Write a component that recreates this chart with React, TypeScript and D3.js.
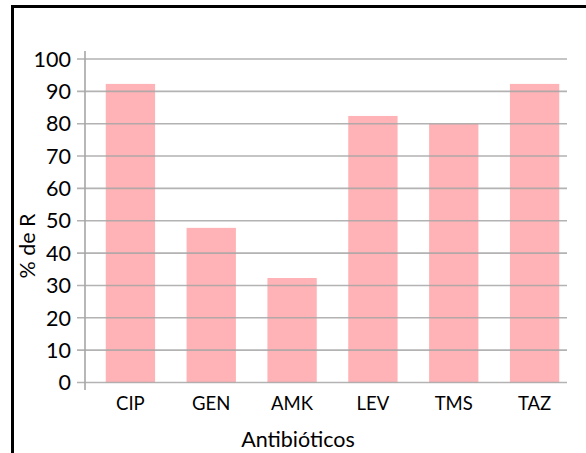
import React from "react";
import * as d3 from "d3";

const categories = ["CIP", "GEN", "AMK", "LEV", "TMS", "TAZ"];
const values = [92.3, 47.8, 32.3, 82.4, 80.0, 92.3];
const yTicks = [0, 10, 20, 30, 40, 50, 60, 70, 80, 90, 100];
const yLabel = "% de R";
const xLabel = "Antibióticos";

export default function App() {
  const W = 586, H = 453;
  const axisX = 85, gridRight = 567;
  const y = d3.scaleLinear().domain([0, 100]).range([382.5, 59]);
  const x = d3.scaleBand().domain(categories).range([90, 575]).paddingInner(0.39).paddingOuter(0.195);
  const font = "Lato, 'Open Sans', sans-serif";
  return (
    <svg width={W} height={H} style={{ position: "absolute", left: 0, top: 0, background: "#fff" }}>
      <rect x={12.5} y={6.5} width={W + 10} height={H + 10} fill="#fff" stroke="#000" strokeWidth={3} />
      {categories.map((c, i) => (
        <rect key={c} x={x(c)} y={y(values[i])} width={x.bandwidth()} height={y(0) - y(values[i])} fill="#ffb3b6" />
      ))}
      {yTicks.map((t) => (
        <g key={t}>
          <line x1={77} x2={gridRight} y1={y(t)} y2={y(t)} stroke="#a6a6a6" strokeWidth={1.6} opacity={0.85} />
          <text x={71} y={y(t)} dy="0.36em" textAnchor="end" fontFamily={font} fontSize={21.5} fill="#000">{t}</text>
        </g>
      ))}
      <line x1={axisX} x2={axisX} y1={51} y2={390} stroke="#a6a6a6" strokeWidth={1.6} />
      {categories.map((c) => (
        <text key={c} x={(x(c) as number) + x.bandwidth() / 2} y={409.5} textAnchor="middle" fontFamily={font} fontSize={18.5} fill="#000">{c}</text>
      ))}
      <text x={298} y={446.5} textAnchor="middle" fontFamily={font} fontSize={21.5} fill="#000">{xLabel}</text>
      <text transform="translate(35,246) rotate(-90)" textAnchor="middle" fontFamily={font} fontSize={21.5} fill="#000">{yLabel}</text>
    </svg>
  );
}
